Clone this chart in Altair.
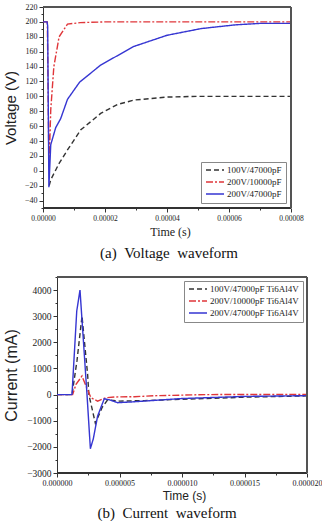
import altair as alt
import pandas as pd

# ---------------- data: voltage waveform (time in microseconds) ----------------
v_names = ["100V/47000pF", "200V/10000pF", "200V/47000pF"]

v_a_t = [2.0, 2.5, 5.2, 7.9, 12.2, 18.6, 24.0, 29.4, 40.0, 50.0, 60.0, 80.0]
v_a_v = [-20, -12, 10, 28, 55, 77, 89, 95, 99, 100, 100, 100]

v_b_t = [0.0, 1.4, 1.9, 2.2, 2.5, 3.5, 5.2, 7.9, 12.0, 20.0, 80.0]
v_b_v = [200, 200, 10, 40, 82, 140, 180, 197, 199, 200, 200]

v_c_t = [0.0, 1.3, 1.5, 1.9, 2.5, 4.1, 5.7, 7.9, 11.8, 18.6, 29.3, 40.0, 51.0, 62.0, 70.0, 80.0]
v_c_v = [200, 200, 195, -22, 35, 58, 70, 96, 119, 142, 167, 182, 191, 196, 198, 198]

# ---------------- data: current waveform (time in microseconds) ----------------
c_names = ["100V/47000pF Ti6Al4V", "200V/10000pF Ti6Al4V", "200V/47000pF Ti6Al4V"]

c_a_t = [0.0, 1.2, 1.6, 2.0, 2.45, 2.55, 3.07, 3.6, 4.05, 5.0, 7.0, 10.0, 15.0, 20.0]
c_a_v = [0, 0, 1300, 3000, 770, 0, -1100, -500, -200, -250, -230, -180, -100, -50]

c_b_t = [0.0, 1.25, 1.52, 2.0, 2.38, 2.72, 3.25, 3.9, 4.7, 6.2, 8.0, 12.0, 20.0]
c_b_v = [0, 0, 390, 710, 260, -120, -250, -120, -90, -80, -40, 0, 10]

c_c_t = [0.0, 1.2, 1.58, 1.84, 2.4, 2.67, 2.9, 3.25, 3.78, 4.2, 4.85, 6.0, 10.0, 15.0, 20.0]
c_c_v = [0, 0, 3200, 4000, 0, -2070, -1700, -820, -160, -200, -310, -280, -150, -70, -40]

v_yticks = list(range(-40, 221, 20))
v_yminor = list(range(-50, 221, 10))
v_xticks = [0, 2e-5, 4e-5, 6e-5, 8e-5]
v_xminor = [1e-5, 3e-5, 5e-5, 7e-5]

c_yticks = list(range(-3000, 4001, 1000))
c_yminor = list(range(-2500, 4501, 1000))
c_xticks = [0, 5e-6, 1e-5, 1.5e-5, 2e-5]
c_xminor = [2.5e-6, 7.5e-6, 1.25e-5, 1.75e-5]

colors = ["#333333", "#e0363a", "#3636d2"]
dashes = [[5, 3], [7, 2, 2, 2], [1, 0]]


def frame(names, ts, vs):
    rows = []
    for name, t, v in zip(names, ts, vs):
        for i, (tt, vv) in enumerate(zip(t, v)):
            rows.append({"s": name, "t": tt * 1e-6, "v": vv, "o": i})
    return pd.DataFrame(rows)


dv = frame(v_names, [v_a_t, v_b_t, v_c_t], [v_a_v, v_b_v, v_c_v])
dc = frame(c_names, [c_a_t, c_b_t, c_c_t], [c_a_v, c_b_v, c_c_v])

SERIF = "Liberation Serif"
SANS = "Liberation Sans"
AX = "#333333"
W = 264  # common panel width (vconcat panels share it)


def hidden(orient):
    return alt.Axis(labels=False, ticks=False, domain=False, grid=False, title=None,
                    orient=orient)


def panel(df, names, xdom, xshow, ydom, xticks, xminor, yticks, yminor, xfmt,
          h, shift, ytitle, xtitle_font, xtitle_size, ylab_size, xlab_size,
          lx, ly, caption, ytitle_pad, yt_size, xt_pad, xt_x, cap_dx, cap_off):
    leg = alt.Legend(
        title=None, orient="none", legendX=lx, legendY=ly,
        strokeColor="#888888", fillColor="white", padding=4,
        labelFont=SERIF, labelFontSize=9, labelColor="#222222",
        symbolType="stroke", symbolSize=324, symbolStrokeWidth=1.5,
        clipHeight=8, rowPadding=3, labelOffset=2,
    )
    xs = alt.Scale(domain=xdom, nice=False, zero=False)
    ys = alt.Scale(domain=ydom, nice=False, zero=False)
    base = alt.Chart(df)
    lines = base.mark_line(strokeWidth=1.4).encode(
        x=alt.X("t:Q", scale=xs,
                axis=alt.Axis(values=xticks, format=xfmt, title="Time (s)",
                              titleFont=xtitle_font, titleFontSize=xtitle_size,
                              titleFontWeight="normal", titleColor="#222222",
                              labelFont=SERIF, labelFontSize=xlab_size,
                              labelColor="#222222", tickSize=4, tickColor=AX,
                              domain=False, grid=False, labelPadding=2,
                              titlePadding=xt_pad, labelOverlap=False, labelFlush=False,
                              titleX=xt_x, orient="bottom")),
        y=alt.Y("v:Q", scale=ys,
                axis=alt.Axis(values=yticks, format="d", title=ytitle, titleFont=SANS,
                              titleFontSize=yt_size, titleFontWeight="normal",
                              titleColor="#222222", labelFont=SERIF,
                              labelFontSize=ylab_size, labelColor="#222222",
                              tickSize=4, tickColor=AX, domainColor=AX,
                              grid=False, labelPadding=2, titlePadding=ytitle_pad,
                              offset=-shift, orient="left")),
        color=alt.Color("s:N", scale=alt.Scale(domain=names, range=colors), legend=leg),
        strokeDash=alt.StrokeDash("s:N", scale=alt.Scale(domain=names, range=dashes), legend=leg),
        order="o:Q",
    )
    minor = base.mark_point(opacity=0).encode(
        x=alt.X("t:Q", axis=alt.Axis(values=xminor, labels=False, title=None, tickSize=2,
                                     domain=False, grid=False, tickColor=AX,
                                     orient="bottom")),
        y=alt.Y("v:Q", axis=alt.Axis(values=yminor, labels=False, title=None, tickSize=2,
                                     domain=False, grid=False, tickColor=AX,
                                     offset=-shift, orient="left")),
    )
    # frame of the plot area, placed through the data scales
    bottom_line = base.mark_rule(color=AX, strokeWidth=1).encode(
        x=alt.XDatum(xshow[0], axis=hidden("bottom")), x2=alt.X2Datum(xshow[1]),
        y=alt.YDatum(ydom[0], axis=hidden("left")))
    top_line = base.mark_rule(color="#555555", strokeWidth=1).encode(
        x=alt.XDatum(xshow[0], axis=hidden("bottom")), x2=alt.X2Datum(xshow[1]),
        y=alt.YDatum(ydom[1], axis=hidden("left")))
    right_line = base.mark_rule(color="#555555", strokeWidth=1).encode(
        x=alt.XDatum(xshow[1], axis=hidden("bottom")),
        y=alt.YDatum(ydom[0], axis=hidden("left")), y2=alt.Y2Datum(ydom[1]))
    ch = alt.layer(lines, minor, bottom_line, top_line, right_line).resolve_axis(
        x="independent", y="independent").properties(
        width=W, height=h,
        title=alt.TitleParams(caption, orient="bottom", font=SERIF, fontSize=15,
                              fontWeight="normal", color="#111111", frame="group",
                              offset=cap_off, anchor="middle", dx=cap_dx),
    )
    return ch


SP = "\u2002"
# voltage panel: plot spans 248 px of the 264 px cell
top = panel(dv, v_names, [0, 8e-5 * 264 / 248], [0, 8e-5], [-50, 220], v_xticks, v_xminor,
            v_yticks, v_yminor, ".5f", 201, 0, "Voltage (V)", SERIF, 12, 8, 7.5,
            158, 155, "(a)" + SP + "Voltage" + SP + "waveform", 6, 15, 5, 127, -6, 8)
# current panel: plot starts 14 px into the cell
bot = panel(dc, c_names, [-2e-5 * 14 / 250, 2e-5], [0, 2e-5], [-3000, 4500], c_xticks,
            c_xminor, c_yticks, c_yminor, ".6f", 196, 14, "Current (mA)", SANS, 12, 9.5, 8,
            141, 4, "(b)" + SP + "Current" + SP + "waveform", 7, 16, 3, 141, -8, 5)

chart = alt.vconcat(top, bot, spacing=15).resolve_scale(
    color="independent", strokeDash="independent"
).properties(
    padding={"left": 3, "top": 3, "right": 0, "bottom": 0},
).configure_view(stroke=None)

chart.save("out.html", embed_options={"renderer": "svg", "actions": False})
